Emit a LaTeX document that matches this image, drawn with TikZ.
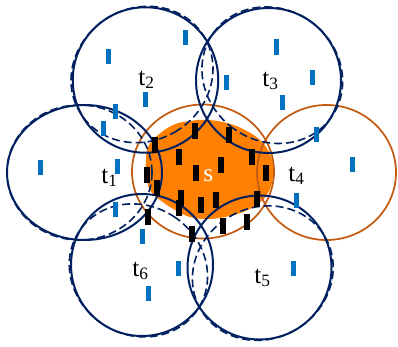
\documentclass[tikz,border=0pt]{standalone}
\usepackage{fontspec}
\setmainfont{Liberation Serif}
\definecolor{navy}{RGB}{0,32,96}
\definecolor{sorange}{RGB}{255,128,0}
\definecolor{sedge}{RGB}{197,90,17}
\definecolor{bbar}{RGB}{0,112,192}
\newcommand\tlab[1]{t\raisebox{-0.3ex}{\fontsize{13}{13}\selectfont #1}}
\tikzset{
  solidc/.style={draw=navy, line width=1.5pt},
  dashc/.style={draw=navy, line width=1.2pt, dash pattern=on 6pt off 3pt},
  orangec/.style={draw=sedge, line width=1.3pt},
  lab/.style={anchor=base west, inner sep=0pt, font=\fontsize{19}{19}\selectfont},
}
\begin{document}
\begin{tikzpicture}[x=0.75pt,y=-0.75pt]
\useasboundingbox (0,0) rectangle (398,346);
% orange filled region
\fill[sorange] plot[smooth cycle, tension=0.7] coordinates {
 (148,147) (157,136) (173,125) (190,121) (207,120) (227,123) (247,131) (263,143)
 (272,160) (273,177) (268,193) (258,204) (243,212) (225,217) (207,219) (190,217)
 (175,210) (160,200) (150,190) (146,175) (146,160)};
% orange circles
\draw[orangec] (203,171.5) ellipse [x radius=71, y radius=67];
\draw[orangec] (326.5,172.5) ellipse [x radius=69.5, y radius=67.5];
% navy circles
\draw[solidc] (84.5,172.5) ellipse [x radius=77.5, y radius=67.5];
\draw[solidc] (145.5,80) circle [radius=72.75];
\draw[solidc] (268.5,80.5) circle [radius=72.5];
\draw[solidc] (142,265) circle [radius=71];
\draw[solidc] (259.5,267.5) circle [radius=72];
% dashed inner curves
\draw[dashc] (79.5,172.5) ellipse [x radius=72.5, y radius=67.5];
\draw[dashc, rotate around={-57.8:(142.0,74.5)}] (142.0,74.5) ellipse [x radius=66.25, y radius=72.75];
\draw[dashc, rotate around={-125.7:(272.3,75.2)}] (272.3,75.2) ellipse [x radius=66, y radius=72.5];
\draw[dashc, rotate around={56.9:(138.4,270.4)}] (138.4,270.4) ellipse [x radius=64.5, y radius=71];
\draw[dashc, rotate around={120.5:(262.8,273.1)}] (262.8,273.1) ellipse [x radius=65.5, y radius=72];
% blue bars
\foreach \x/\y in {185/38,108/56,145/99,115/111,103/128,40/167,117/166,
  276/47,226/82,312/77,282/102,316/134,352/164,
  115/209,142/236,178/268,148/293,296/200,293/268}
  \fill[bbar] (\x-2.5,\y-7.5) rectangle (\x+2.5,\y+7.5);
% black bars
\foreach \x/\y in {195/130.5,229/135,155/145,179/157,252/157,221/165,196/173,
  266/173,147/175,157/188,181/198,179/208,201/205,216/200,257/199,148/217,
  223/226,247/222,192/234}
  \fill[black] (\x-3,\y-8) rectangle (\x+3,\y+8);
% labels
\node[lab] (l1) at (101,183) {\tlab{1}};
\node[lab] (l2) at (138,85) {\tlab{2}};
\node[lab] (l3) at (262,86) {\tlab{3}};
\node[lab] (l4) at (288,181) {\tlab{4}};
\node[lab] (l5) at (254,283) {\tlab{5}};
\node[lab] (l6) at (132,276) {\tlab{6}};
\node[lab, text=white] (ls) at (203,181) {s};
\end{tikzpicture}
\end{document}
